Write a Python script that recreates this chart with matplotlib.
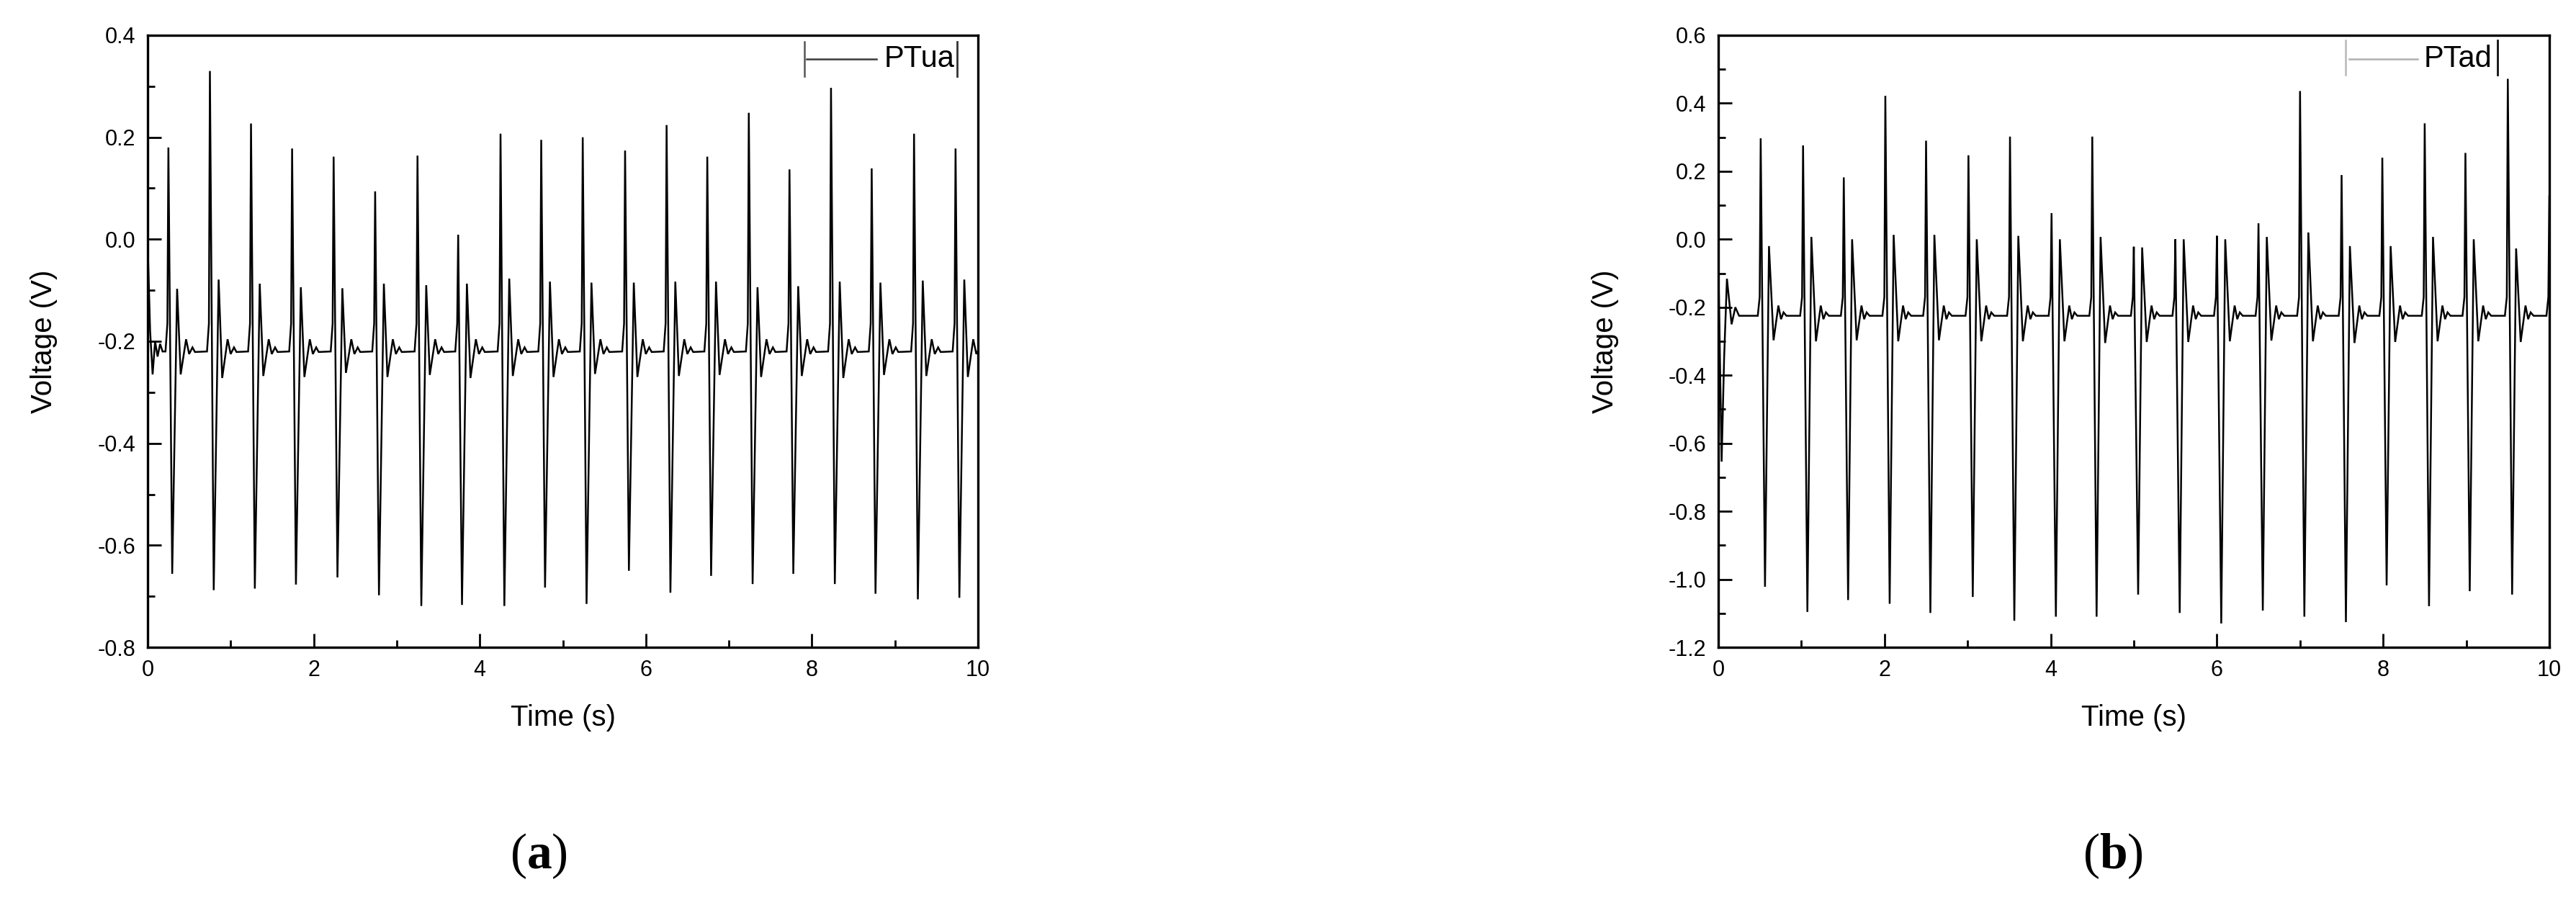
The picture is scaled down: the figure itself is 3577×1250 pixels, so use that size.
import matplotlib
matplotlib.use("Agg")
import matplotlib.pyplot as plt
from matplotlib.ticker import MultipleLocator, FormatStrFormatter

plt.rcParams['font.family'] = ['Liberation Sans', 'DejaVu Sans']
plt.rcParams['axes.unicode_minus'] = False
plt.rcParams['mathtext.fontset'] = 'custom'
plt.rcParams['mathtext.rm'] = 'Liberation Serif'
plt.rcParams['mathtext.bf'] = 'Liberation Serif:bold'

# ---------------- data ----------------
# panel (a) PTua : beat times (s), R peak, S trough, second peak, second trough (V)
a_beat_t = [0.25, 0.75, 1.245, 1.74, 2.24, 2.74, 3.25, 3.74, 4.25, 4.74,
            5.24, 5.75, 6.25, 6.74, 7.24, 7.73, 8.23, 8.72, 9.23, 9.73]
a_peak = [0.18, 0.33, 0.227, 0.178, 0.162, 0.094, 0.164, 0.009, 0.207, 0.195,
          0.20, 0.174, 0.224, 0.162, 0.248, 0.137, 0.297, 0.139, 0.207, 0.178]
a_trough = [-0.656, -0.688, -0.685, -0.677, -0.663, -0.698, -0.719, -0.717, -0.719, -0.683,
            -0.715, -0.650, -0.693, -0.660, -0.676, -0.656, -0.676, -0.695, -0.706, -0.703]
a_peak2 = [-0.097, -0.079, -0.087, -0.094, -0.096, -0.087, -0.090, -0.087, -0.077, -0.083,
           -0.085, -0.085, -0.083, -0.083, -0.094, -0.092, -0.083, -0.085, -0.081, -0.079]
a_trough2 = [-0.265, -0.272, -0.268, -0.270, -0.262, -0.270, -0.266, -0.272, -0.268, -0.270,
             -0.264, -0.270, -0.268, -0.266, -0.270, -0.268, -0.272, -0.266, -0.268, -0.270]
a_start_t = [0.0, 0.03, 0.06, 0.09, 0.12, 0.15, 0.18]
a_start_v = [-0.005, -0.18, -0.265, -0.20, -0.23, -0.205, -0.22]
a_base = -0.22
# relative timing of the beat shape (s) and small after-wiggles (V)
a_shape_dt = [-0.035, -0.012, 0.0, 0.046, 0.105, 0.148, 0.213, 0.25, 0.29, 0.32]
a_tail_v = [-0.196, -0.225, -0.212, -0.221]

# panel (b) PTad
b_beat_t = [0.51, 1.02, 1.51, 2.01, 2.50, 3.01, 3.51, 4.01, 4.50, 5.00,
            5.50, 6.00, 6.50, 7.00, 7.50, 7.99, 8.50, 8.99, 9.50, 10.0]
b_peak = [0.297, 0.276, 0.182, 0.422, 0.290, 0.247, 0.302, 0.077, 0.302, -0.022,
          0.0, 0.010, 0.047, 0.436, 0.189, 0.240, 0.341, 0.254, 0.472, 0.13]
b_trough = [-1.022, -1.096, -1.061, -1.072, -1.099, -1.052, -1.122, -1.110, -1.110, -1.045,
            -1.099, -1.130, -1.092, -1.110, -1.126, -1.018, -1.079, -1.035, -1.045, -1.05]
b_peak2 = [-0.020, 0.007, 0.0, 0.013, 0.013, 0.0, 0.010, 0.0, 0.007, -0.024,
           0.0, 0.0, 0.007, 0.020, -0.020, -0.020, 0.007, 0.0, -0.027, 0.0]
b_trough2 = [-0.297, -0.300, -0.297, -0.300, -0.297, -0.300, -0.300, -0.300, -0.305, -0.302,
             -0.302, -0.300, -0.298, -0.300, -0.305, -0.302, -0.300, -0.300, -0.302, -0.300]
b_start_t = [0.0, 0.04, 0.07, 0.104, 0.16, 0.205, 0.25]
b_start_v = [-0.05, -0.654, -0.35, -0.116, -0.25, -0.20, -0.225]
b_base = -0.225
b_shape_dt = [-0.035, -0.012, 0.0, 0.052, 0.10, 0.155, 0.213, 0.245, 0.275, 0.31]
b_tail_v = [-0.195, -0.235, -0.215, -0.225]

x_ticks = [0, 2, 4, 6, 8, 10]


def build(start_t, start_v, bt, pk, tr, p2, t2, base, dt, tail):
    xs = list(start_t)
    ys = list(start_v)
    for i in range(len(bt)):
        vals = [base, base + 0.055, pk[i], tr[i], p2[i], t2[i]] + list(tail)
        for d, v in zip(dt, vals):
            xs.append(bt[i] + d)
            ys.append(v)
    return xs, ys


ax_t, ay_v = build(a_start_t, a_start_v, a_beat_t, a_peak, a_trough, a_peak2, a_trough2,
                   a_base, a_shape_dt, a_tail_v)
bx_t, by_v = build(b_start_t, b_start_v, b_beat_t, b_peak, b_trough, b_peak2, b_trough2,
                   b_base, b_shape_dt, b_tail_v)

# ---------------- figure ----------------
W, H = 3577, 1250
fig = plt.figure(figsize=(W / 100, H / 100), dpi=100)
fig.patch.set_facecolor('white')


def frac(l, t, r, b):
    return [l / W, 1 - b / H, (r - l) / W, (b - t) / H]


ax1 = fig.add_axes(frac(205, 49, 1358, 899))
ax2 = fig.add_axes(frac(2386, 49, 3540, 899))

panels = [
    (ax1, ax_t, ay_v, (-0.8, 0.4), 'PTua', '#3a3a3a', ['#555555', '#333333'],
     (0.791, 0.794, 0.878, 0.887, 0.975), (0.933, 0.989), -0.125),
    (ax2, bx_t, by_v, (-1.2, 0.6), 'PTad', '#b0b0b0', ['#b8b8b8', '#111111'],
     (0.755, 0.759, 0.841, 0.849, 0.938), (0.935, 0.992), -0.136),
]

for ax, xs, ys, ylim, name, lcol, barcols, lx, ly, ylab_x in panels:
    ax.plot(xs, ys, color='black', lw=1.8, solid_joinstyle='miter')
    ax.set_xlim(0, 10)
    ax.set_ylim(*ylim)
    ax.set_xticks(x_ticks)
    ax.xaxis.set_minor_locator(MultipleLocator(1))
    ax.yaxis.set_major_locator(MultipleLocator(0.2))
    ax.yaxis.set_minor_locator(MultipleLocator(0.1))
    ax.yaxis.set_major_formatter(FormatStrFormatter('%.1f'))
    ax.tick_params(which='major', direction='in', length=14, width=2.0,
                   labelsize=22, pad=12)
    ax.tick_params(which='minor', direction='in', length=7, width=2.0)
    for s in ax.spines.values():
        s.set_linewidth(2.4)
    ax.set_xlabel('Time (s)', fontsize=29, va='center')
    ax.xaxis.set_label_coords(0.5, -0.1153)
    ax.set_ylabel('Voltage (V)', fontsize=29, va='center')
    ax.yaxis.set_label_coords(ylab_x, 0.5)
    # Origin-style legend
    ax.plot([lx[0], lx[0]], [ly[0], ly[1]], transform=ax.transAxes, color=barcols[0], lw=1.8)
    ax.plot([lx[1], lx[2]], [0.961, 0.961], transform=ax.transAxes, color=lcol, lw=1.8)
    ax.text(lx[3], 0.961, name, transform=ax.transAxes, fontsize=30, va='center', ha='left')
    ax.plot([lx[4], lx[4]], [ly[0], ly[1]], transform=ax.transAxes, color=barcols[1], lw=2.0)

fig.text(748 / W, 1 - 1189 / H, r'($\mathbf{a}$)', fontsize=50, ha='center', va='center',
         family='Liberation Serif')
fig.text(2934 / W, 1 - 1189 / H, r'($\mathbf{b}$)', fontsize=50, ha='center', va='center',
         family='Liberation Serif')

fig.savefig('out.png', dpi=100, facecolor='white')
